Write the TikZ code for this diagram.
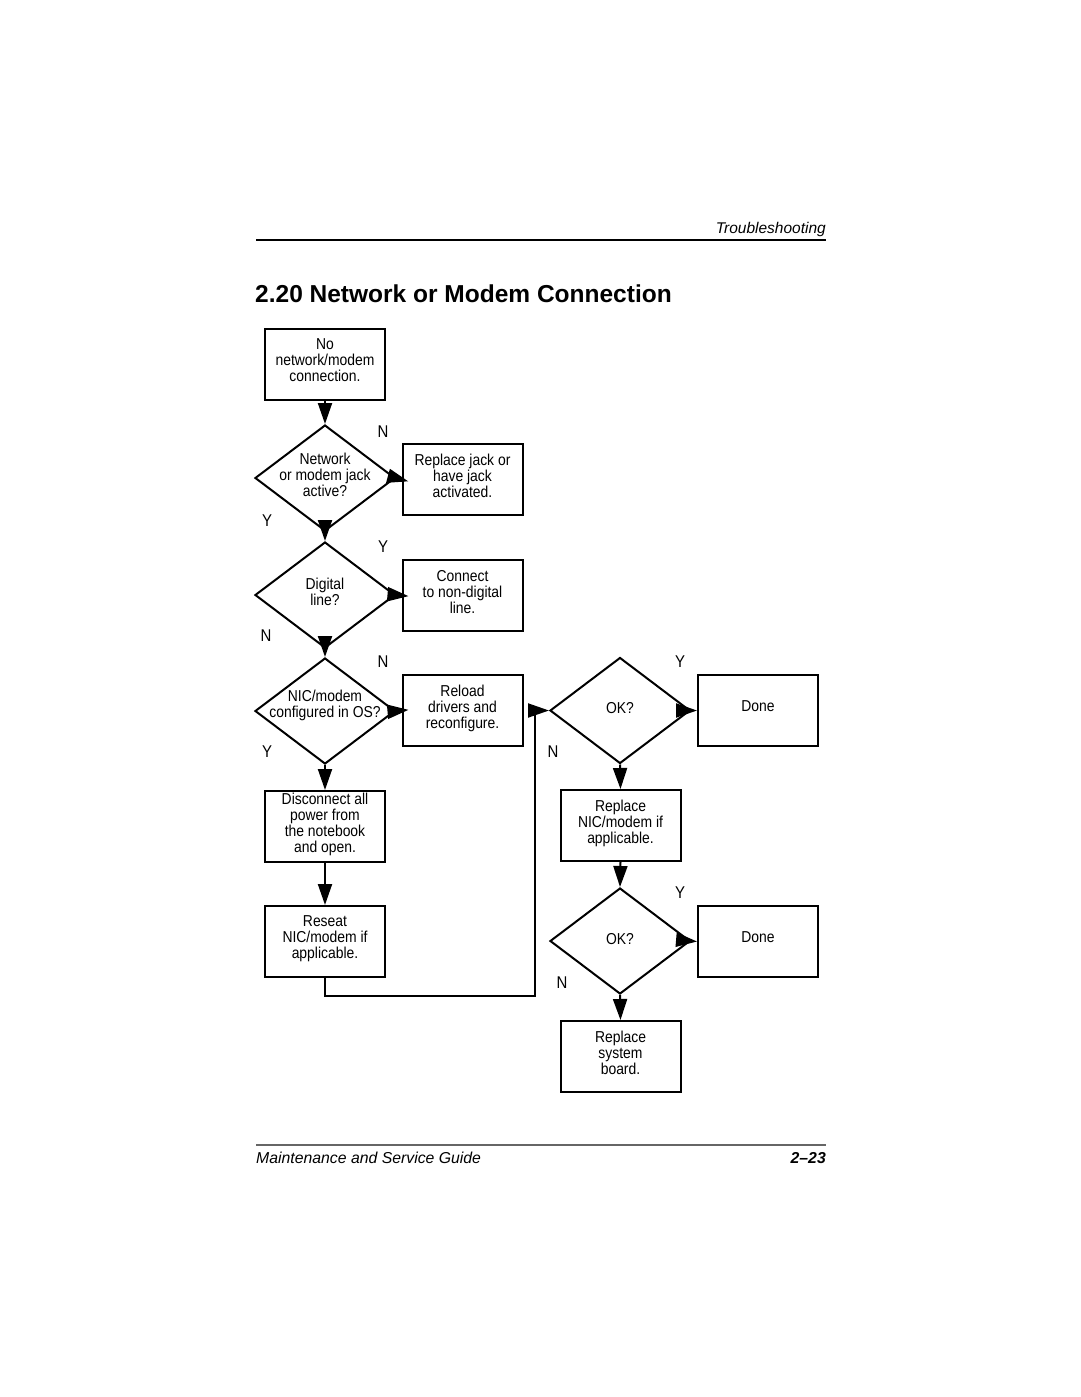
\documentclass[tikz,border=0pt]{standalone}
\usepackage{fontspec}
\setmainfont{Liberation Sans}
\newfontfamily\cond{Liberation Sans}[FakeStretch=0.88]
\usetikzlibrary{shapes.geometric,arrows.meta}
\begin{document}
\begin{tikzpicture}[x=1pt,y=-1pt,
  box/.style={draw, line width=2pt, minimum width=120pt, minimum height=71pt, inner sep=0pt, align=center, font=\cond\fontsize{15.8}{16}\selectfont, execute at end node={\rule[-8pt]{0pt}{8pt}}},
  dia/.style={draw, diamond, line width=2pt, minimum width=140pt, minimum height=106pt, inner sep=0pt},
  dtext/.style={align=center, inner sep=0pt, font=\cond\fontsize{15.8}{16}\selectfont},
  yn/.style={inner sep=0pt, font=\cond\fontsize{17}{17}\selectfont},
  arr/.style={line width=2pt, -{Triangle[length=21pt,width=14pt]}},
  harr/.style={arr, shorten >=-7pt}]
\useasboundingbox (0,0) rectangle (1080,1397);
\fill[white] (0,0) rectangle (1080,1397);

% header
\node[anchor=base east, inner sep=0pt, font=\itshape\fontsize{15.5}{15.5}\selectfont] (hdr) at (826,233) {Troubleshooting};
\draw[line width=1.2pt] (256,240) -- (826,240);
\node[anchor=base west, inner sep=0pt, font=\bfseries\fontsize{24.5}{24.5}\selectfont] (title) at (255,302) {2.20 Network or Modem Connection};

% left column
\node[box] (b1) at (325,364.5) {No\\network/modem\\connection.};
\node[dia] (d1) at (325,478) {};
\node[dtext] (t1) at (325,475) {Network\\or modem jack\\active?};
\node[box] (r1) at (462.5,479.5) {Replace jack or\\have jack\\activated.};
\node[dia] (d2) at (325,595) {};
\node[dtext] (t2) at (325,592) {Digital\\line?};
\node[box] (r2) at (462.5,595.5) {Connect\\to non-digital\\line.};
\node[dia] (d3) at (325,711) {};
\node[dtext] (t3) at (325,705) {NIC/modem\\configured in OS?};
\node[box] (r3) at (462.5,710.5) {Reload\\drivers and\\reconfigure.};
\node[box] (b4) at (325,826.5) {Disconnect all\\power from\\the notebook\\and open.};
\node[box] (b5) at (325,941.5) {Reseat\\NIC/modem if\\applicable.};

% right column
\node[dia] (d4) at (620,710.5) {};
\node[dtext] (t4) at (620,708) {OK?};
\node[box] (done1) at (758,710.5) {Done};
\node[box] (nic) at (620.5,825.5) {Replace\\NIC/modem if\\applicable.};
\node[dia] (d5) at (620,941) {};
\node[dtext] (t5) at (620,939) {OK?};
\node[box] (done2) at (758,941.5) {Done};
\node[box] (sysb) at (620.5,1056.5) {Replace\\system\\board.};

% labels
\node[yn] (l1) at (383,432) {N};
\node[yn] (l2) at (267,521) {Y};
\node[yn] (l3) at (383,547) {Y};
\node[yn] (l4) at (266,636) {N};
\node[yn] (l5) at (383,662) {N};
\node[yn] (l6) at (267,752) {Y};
\node[yn] (l7) at (680,662) {Y};
\node[yn] (l8) at (553,752) {N};
\node[yn] (l9) at (680,893) {Y};
\node[yn] (l10) at (562,983) {N};

% connectors
\draw[arr] (b1.south) -- (d1.north);
\draw[harr] (d1.east) -- (r1.west);
\draw[arr] (d1.south) -- (d2.north);
\draw[harr] (d2.east) -- (r2.west);
\draw[arr] (d2.south) -- (d3.north);
\draw[harr] (d3.east) -- (r3.west);
\draw[arr] (d3.south) -- (b4.north);
\draw[arr] (b4.south) -- (b5.north);
\coordinate (c1) at (325,996);
\coordinate (c2) at (535,996);
\coordinate (c3) at (535,710.5);
\draw[arr, line join=miter] (b5.south) -- (c1) -- (c2) -- (c3) -- (d4.west);
\draw[arr] (d4.east) -- (done1.west);
\draw[arr] (d4.south) -- (nic.north);
\draw[arr] (nic.south) -- (d5.north);
\draw[arr] (d5.east) -- (done2.west);
\draw[arr] (d5.south) -- (sysb.north);

% footer
\draw[line width=1.2pt, black!60] (256,1145) -- (826,1145);
\node[anchor=base west, inner sep=0pt, font=\itshape\fontsize{15.8}{15.8}\selectfont] (ftl) at (256,1163) {Maintenance and Service Guide};
\node[anchor=base east, inner sep=0pt, font=\bfseries\itshape\fontsize{15.8}{15.8}\selectfont] (ftr) at (826,1163) {2–23};
\end{tikzpicture}
\end{document}
